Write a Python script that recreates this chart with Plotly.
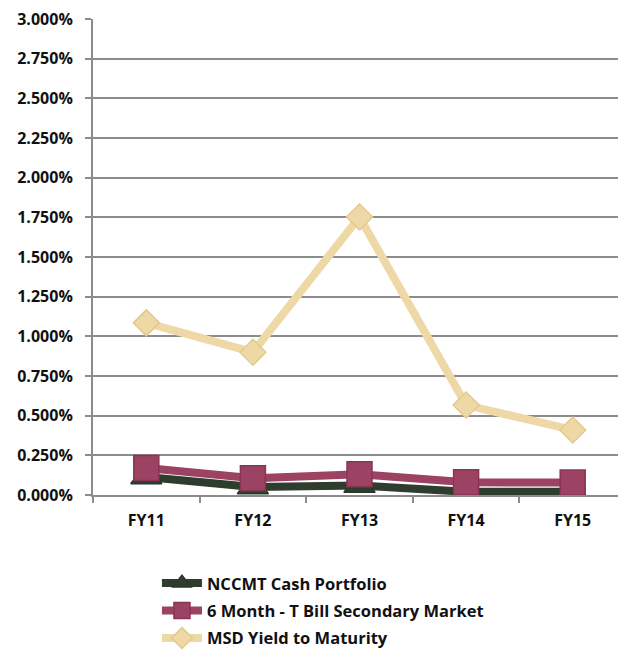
import plotly.graph_objects as go

categories = ["FY11", "FY12", "FY13", "FY14", "FY15"]
nccmt = [0.00113, 0.0005, 0.0006, 0.0002, 0.0002]
tbill = [0.0017, 0.00105, 0.0013, 0.0008, 0.00078]
msd = [0.01085, 0.0090, 0.01752, 0.00567, 0.0041]

names = ["NCCMT Cash Portfolio", "6 Month - T Bill Secondary Market", "MSD Yield to Maturity"]
colors = ["#2E3D2E", "#9C4263", "#EED9A6"]
edge = ["#2A382A", "#8A3455", "#E2C98E"]
symbols = ["triangle-up", "square", "diamond"]
sizes = [27, 25, 20]

fig = go.Figure()
for i, (vals, n, c, e, s, sz) in enumerate(zip([nccmt, tbill, msd], names, colors, edge, symbols, sizes)):
    fig.add_trace(go.Scatter(
        x=categories, y=vals, name=n, mode="lines+markers", legendgroup=f"g{i}",
        line=dict(color=c, width=8),
        marker=dict(symbol=s, size=sz, color=c, line=dict(color=e, width=1.5)),
    ))

font = "'Open Sans', sans-serif"
fig.update_layout(
    width=618, height=642,
    margin=dict(l=85, r=0, t=11, b=155, autoexpand=False),
    paper_bgcolor="white", plot_bgcolor="white",
    font=dict(family=font, size=16, color="#111111"),
    showlegend=True,
    legend=dict(
        orientation="v", x=0.12, xanchor="left",
        yref="container", y=0.131, yanchor="top",
        font=dict(family=font, size=16.5, color="#111111", weight="bold"),
        itemwidth=40, tracegroupgap=3, traceorder="grouped", bgcolor="rgba(0,0,0,0)",
    ),
    xaxis=dict(
        type="category", showgrid=False, showline=True, linecolor="#8C8C8C", linewidth=2,
        ticks="outside", tickson="boundaries", ticklen=6, tickcolor="#8C8C8C", tickwidth=2,
        tickfont=dict(family=font, size=16, color="#111111", weight="bold"),
        range=[-0.5, 4.5], ticklabelstandoff=10,
    ),
    yaxis=dict(
        range=[0, 0.03], dtick=0.0025, tickformat=".3%",
        showgrid=True, gridcolor="#8C8C8C", gridwidth=2,
        showline=True, linecolor="#8C8C8C", linewidth=2,
        ticks="outside", ticklen=6, tickcolor="#8C8C8C", tickwidth=2,
        tickfont=dict(family=font, size=16, color="#111111", weight="bold"),
        zeroline=False, ticklabelstandoff=9, ticklabeloverflow="allow",
    ),
)
fig.write_html("out.html")
